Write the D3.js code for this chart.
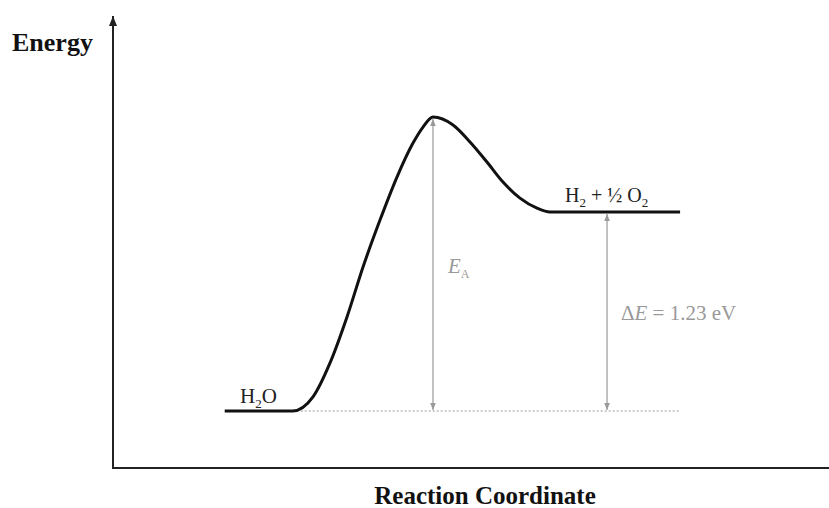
<!DOCTYPE html>
<html><head><meta charset="utf-8">
<script src="https://cdn.jsdelivr.net/npm/d3@7"></script>
<style>body{margin:0;background:#fff}svg{display:block}text{font-family:"Liberation Serif","Times New Roman",serif}</style>
</head><body><svg id="c" width="829" height="508"></svg>
<script>
// Reaction coordinate (arbitrary 0-100) and energy (eV, relative to H2O)
const pathX = [15.6, 25.1, 27.93, 30.31, 32.68, 34.92, 37.29, 39.66, 41.9, 43.3, 44.69, 47.49, 49.86, 52.23, 54.47, 56.84, 59.22, 61.03, 79.2];
const pathE = [0, 0, 0.087, 0.297, 0.581, 0.89, 1.18, 1.446, 1.656, 1.755, 1.817, 1.768, 1.663, 1.539, 1.415, 1.316, 1.254, 1.23, 1.23];
const deltaE = 1.23;
const peakX = 44.69, deltaX = 69.0;
const baselineEnd = 79.2;

const svg = d3.select("#c");
const x = d3.scaleLinear().domain([0, 100]).range([113, 829]);
const y = d3.scaleLinear().domain([0, deltaE]).range([411, 212]);
const yAxisBottom = y.invert(468), yAxisTop = y.invert(16);

const defs = svg.append("defs");
function marker(id, color, size, orient) {
  defs.append("marker").attr("id", id).attr("viewBox", "0 0 10 10").attr("refX", 10).attr("refY", 5)
    .attr("markerWidth", size).attr("markerHeight", size).attr("markerUnits", "userSpaceOnUse")
    .attr("orient", orient).append("path").attr("d", "M0,1 L10,5 L0,9 Z").attr("fill", color);
}
marker("ax", "#222", 10, "auto");
marker("ga", "#999", 7, "auto-start-reverse");

// axes
svg.append("line").attr("x1", x(0)).attr("x2", x(100)).attr("y1", y(yAxisBottom)).attr("y2", y(yAxisBottom))
  .attr("stroke", "#222").attr("stroke-width", 2);
svg.append("line").attr("x1", x(0)).attr("x2", x(0)).attr("y1", y(yAxisBottom) + 1).attr("y2", y(yAxisTop))
  .attr("stroke", "#222").attr("stroke-width", 2).attr("marker-end", "url(#ax)");

// dotted baseline
svg.append("line").attr("x1", x(pathX[1])).attr("x2", x(baselineEnd)).attr("y1", y(0)).attr("y2", y(0))
  .attr("stroke", "#999").attr("stroke-width", 1).attr("stroke-dasharray", "2,2");

// arrows
const arrows = [[peakX, d3.max(pathE)], [deltaX, deltaE]];
arrows.forEach(([ax, top]) => {
  svg.append("line").attr("x1", x(ax)).attr("x2", x(ax)).attr("y1", y(top) + 2).attr("y2", y(0) - 1)
    .attr("stroke", "#999").attr("stroke-width", 1.2)
    .attr("marker-start", "url(#ga)").attr("marker-end", "url(#ga)");
});

// energy curve
const pts = pathX.map((d, i) => [d, pathE[i]]);
svg.append("path").datum(pts)
  .attr("d", d3.line().x(d => x(d[0])).y(d => y(d[1])).curve(d3.curveMonotoneX))
  .attr("fill", "none").attr("stroke", "#111").attr("stroke-width", 3);

// labels
const t1 = svg.append("text").attr("x", 240).attr("y", 403).attr("font-size", 21).attr("fill", "#222");
t1.append("tspan").text("H");
t1.append("tspan").attr("font-size", 13).attr("dy", 5).text("2");
t1.append("tspan").attr("dy", -5).text("O");

const t2 = svg.append("text").attr("x", 565).attr("y", 202).attr("font-size", 20).attr("fill", "#222");
t2.append("tspan").text("H");
t2.append("tspan").attr("font-size", 13).attr("dy", 5).text("2");
t2.append("tspan").attr("dy", -5).text(" + ½ O");
t2.append("tspan").attr("font-size", 13).attr("dy", 5).text("2");

const t3 = svg.append("text").attr("x", 448).attr("y", 273).attr("font-size", 21).attr("fill", "#999");
t3.append("tspan").attr("font-style", "italic").text("E");
t3.append("tspan").attr("font-size", 12).attr("dy", 5).text("A");

const t4 = svg.append("text").attr("x", 621).attr("y", 320).attr("font-size", 21).attr("fill", "#999");
t4.append("tspan").text("Δ");
t4.append("tspan").attr("font-style", "italic").text("E");
t4.append("tspan").text(" = " + deltaE.toFixed(2) + " eV");

svg.append("text").attr("x", 12).attr("y", 51).attr("font-size", 26).attr("font-weight", "bold").attr("fill", "#111").text("Energy");
svg.append("text").attr("x", 485).attr("y", 504).attr("text-anchor", "middle").attr("font-size", 25).attr("font-weight", "bold").attr("fill", "#111").text("Reaction Coordinate");
</script></body></html>
